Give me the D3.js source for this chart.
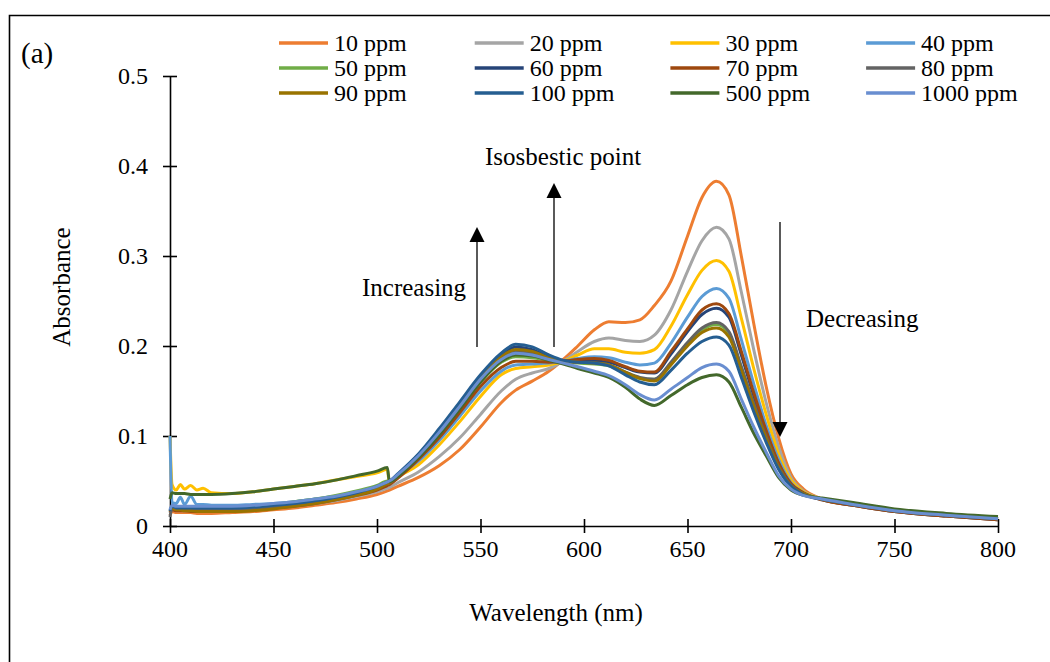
<!DOCTYPE html>
<html>
<head>
<meta charset="utf-8">
<script src="https://cdn.jsdelivr.net/npm/d3@7"></script>
<style>
  body { margin: 0; background: #fff; }
  text { font-family: "Liberation Serif", "Times New Roman", serif; fill: #000; }
</style>
</head>
<body>
<div class="chart"></div>
<script>
// wavelengths (nm) shared by all series
var wavelength = [400,401,403,405,407,410,413,416,420,
  430,440,450,460,470,480,490,500,
  505,506,
  510,520,530,540,550,560,567,575,
  583,590,597,605,612,620,627,634,642,650,657,664,
  670,676,682,688,694,700,706,715,730,750,775,800];

// absorbance
var ppm10 = [0.012,0.016,0.015,0.015,0.015,0.015,0.014,0.014,0.014,
  0.015,0.016,0.018,0.020,0.023,0.026,0.030,0.035,
  0.039,0.040,
  0.044,0.054,0.067,0.085,0.110,0.137,0.151,0.161,
  0.172,0.185,0.200,0.218,0.227,0.226,0.229,0.245,0.272,0.322,0.365,0.383,
  0.368,0.300,0.225,0.155,0.098,0.058,0.041,0.030,0.023,0.016,0.011,0.007];
var ppm20 = [0.014,0.018,0.017,0.017,0.017,0.017,0.017,0.017,0.017,
  0.017,0.018,0.020,0.022,0.025,0.028,0.033,0.038,
  0.042,0.043,
  0.048,0.060,0.077,0.098,0.124,0.150,0.163,0.170,
  0.175,0.183,0.194,0.205,0.209,0.206,0.205,0.212,0.240,0.283,0.317,0.332,
  0.319,0.260,0.196,0.137,0.088,0.054,0.039,0.030,0.024,0.017,0.012,0.008];
var ppm30 = [0.100,0.046,0.040,0.046,0.041,0.045,0.040,0.042,0.037,
  0.036,0.038,0.041,0.044,0.047,0.051,0.055,0.059,
  0.063,0.047,
  0.054,0.068,0.090,0.116,0.144,0.168,0.175,0.177,
  0.179,0.183,0.190,0.197,0.197,0.193,0.192,0.196,0.222,0.257,0.284,0.295,
  0.283,0.231,0.175,0.124,0.080,0.051,0.038,0.030,0.024,0.017,0.012,0.008];
var ppm40 = [0.100,0.026,0.025,0.032,0.024,0.033,0.024,0.024,0.023,
  0.023,0.024,0.025,0.027,0.030,0.033,0.038,0.044,
  0.049,0.050,
  0.056,0.072,0.095,0.122,0.150,0.172,0.179,0.180,
  0.181,0.183,0.186,0.188,0.187,0.182,0.179,0.181,0.203,0.232,0.255,0.264,
  0.253,0.207,0.158,0.112,0.074,0.048,0.037,0.030,0.024,0.017,0.012,0.008];
var ppm50 = [0.016,0.021,0.020,0.020,0.020,0.020,0.020,0.020,0.020,
  0.021,0.022,0.024,0.027,0.030,0.034,0.039,0.045,
  0.050,0.050,
  0.056,0.077,0.102,0.130,0.160,0.182,0.188,0.187,
  0.184,0.182,0.181,0.180,0.178,0.170,0.164,0.163,0.180,0.202,0.218,0.224,
  0.214,0.176,0.135,0.098,0.065,0.045,0.036,0.030,0.024,0.017,0.012,0.008];
var ppm60 = [0.016,0.019,0.018,0.018,0.018,0.018,0.017,0.017,0.017,
  0.017,0.018,0.020,0.023,0.026,0.030,0.035,0.042,
  0.047,0.048,
  0.056,0.079,0.106,0.136,0.166,0.190,0.199,0.196,
  0.188,0.184,0.183,0.183,0.182,0.176,0.171,0.170,0.191,0.216,0.235,0.242,
  0.232,0.190,0.145,0.104,0.069,0.046,0.036,0.029,0.023,0.016,0.011,0.007];
var ppm70 = [0.015,0.018,0.017,0.017,0.017,0.016,0.016,0.016,0.016,
  0.017,0.018,0.020,0.022,0.025,0.029,0.034,0.040,
  0.045,0.046,
  0.053,0.074,0.098,0.126,0.155,0.176,0.183,0.183,
  0.182,0.183,0.185,0.186,0.184,0.177,0.172,0.171,0.194,0.219,0.240,0.247,
  0.236,0.194,0.148,0.106,0.070,0.047,0.037,0.029,0.023,0.016,0.011,0.007];
var ppm80 = [0.010,0.020,0.019,0.019,0.019,0.018,0.018,0.018,0.018,
  0.018,0.019,0.021,0.023,0.026,0.030,0.035,0.042,
  0.047,0.048,
  0.055,0.078,0.104,0.133,0.163,0.186,0.194,0.192,
  0.186,0.183,0.182,0.181,0.179,0.171,0.165,0.163,0.182,0.204,0.220,0.226,
  0.216,0.177,0.136,0.099,0.066,0.045,0.036,0.030,0.024,0.017,0.012,0.008];
var ppm90 = [0.018,0.020,0.018,0.018,0.017,0.017,0.016,0.016,0.016,
  0.016,0.017,0.019,0.022,0.025,0.029,0.034,0.041,
  0.047,0.048,
  0.056,0.079,0.105,0.134,0.164,0.188,0.196,0.194,
  0.187,0.183,0.182,0.181,0.179,0.171,0.164,0.161,0.179,0.200,0.215,0.220,
  0.210,0.173,0.133,0.097,0.065,0.044,0.036,0.030,0.024,0.017,0.012,0.008];
var ppm100 = [0.017,0.022,0.020,0.020,0.020,0.020,0.020,0.020,0.020,
  0.020,0.021,0.023,0.025,0.028,0.032,0.037,0.044,
  0.049,0.050,
  0.058,0.080,0.108,0.138,0.168,0.192,0.202,0.199,
  0.190,0.184,0.182,0.181,0.178,0.168,0.160,0.157,0.173,0.192,0.205,0.210,
  0.201,0.165,0.127,0.093,0.063,0.044,0.035,0.030,0.024,0.017,0.012,0.008];
var ppm500 = [0.030,0.037,0.036,0.036,0.036,0.035,0.035,0.035,0.035,
  0.036,0.038,0.041,0.044,0.047,0.051,0.056,0.061,
  0.065,0.049,
  0.055,0.076,0.101,0.130,0.160,0.183,0.190,0.189,
  0.184,0.180,0.175,0.170,0.165,0.154,0.141,0.134,0.145,0.157,0.165,0.168,
  0.160,0.132,0.103,0.078,0.054,0.040,0.034,0.031,0.026,0.019,0.014,0.0105];
var ppm1000 = [0.018,0.023,0.022,0.022,0.022,0.022,0.022,0.022,0.022,
  0.022,0.023,0.025,0.027,0.030,0.033,0.038,0.044,
  0.049,0.050,
  0.057,0.078,0.104,0.133,0.163,0.185,0.192,0.190,
  0.185,0.181,0.177,0.172,0.167,0.157,0.146,0.140,0.152,0.165,0.176,0.180,
  0.172,0.141,0.110,0.082,0.056,0.041,0.034,0.030,0.024,0.017,0.012,0.008];

var seriesNames = ["10 ppm","20 ppm","30 ppm","40 ppm","50 ppm","60 ppm",
  "70 ppm","80 ppm","90 ppm","100 ppm","500 ppm","1000 ppm"];
var seriesValues = [ppm10,ppm20,ppm30,ppm40,ppm50,ppm60,ppm70,ppm80,ppm90,ppm100,ppm500,ppm1000];
var xTicks = [400,450,500,550,600,650,700,750,800];
var yTicks = [0,0.1,0.2,0.3,0.4,0.5];

var colors = ["#ED7D31","#A5A5A5","#FFC000","#5B9BD5","#70AD47","#264478",
  "#9E480E","#636363","#997300","#255E91","#43682B","#698ED0"];

var svgWidth = 1050, svgHeight = 662;
var svg = d3.select(".chart").append("svg")
  .attr("width", svgWidth)
  .attr("height", svgHeight);

// outer frame (only left and top edges are in view)
svg.append("path")
  .attr("d", "M9.5,662 V15.5 H1050")
  .attr("fill", "none")
  .attr("stroke", "#000")
  .attr("stroke-width", 1.6);

var xScale = d3.scaleLinear().domain([400, 800]).range([170, 998]);
var yScale = d3.scaleLinear().domain([0, 0.5]).range([526, 76]);

// axes with ticks crossing the axis line
var xAxis = svg.append("g")
  .attr("transform", "translate(0,526)")
  .call(d3.axisBottom(xScale).tickValues(xTicks).tickSize(7).tickSizeOuter(0).tickFormat(""));
xAxis.selectAll(".tick line").attr("y1", -7);
xAxis.select(".domain").attr("stroke-width", 1.6);
xAxis.selectAll(".tick line").attr("stroke-width", 1.6);

var yAxis = svg.append("g")
  .attr("transform", "translate(170,0)")
  .call(d3.axisLeft(yScale).tickValues(yTicks).tickSize(7).tickSizeOuter(0).tickFormat(""));
yAxis.selectAll(".tick line").attr("x1", 7).attr("x2", -7);
yAxis.select(".domain").attr("stroke-width", 1.6);
yAxis.selectAll(".tick line").attr("stroke-width", 1.6);

svg.selectAll(".xlab").data(xTicks).enter().append("text")
  .attr("x", d => xScale(d))
  .attr("y", 557)
  .attr("text-anchor", "middle")
  .style("font-size", "24px")
  .text(d => d);

svg.selectAll(".ylab").data(yTicks).enter().append("text")
  .attr("x", 148)
  .attr("y", d => yScale(d) + 8)
  .attr("text-anchor", "end")
  .style("font-size", "24px")
  .text(d => d);

// spectra
var line = d3.line()
  .x((d, i) => xScale(wavelength[i]))
  .y(d => yScale(d))
  .curve(d3.curveMonotoneX);

svg.append("g").selectAll("path")
  .data(seriesValues)
  .enter()
  .append("path")
  .attr("d", d => line(d))
  .attr("fill", "none")
  .attr("stroke", (d, i) => colors[i])
  .attr("stroke-width", 3)
  .attr("stroke-linejoin", "round");

// axis titles
svg.append("text")
  .attr("x", 556)
  .attr("y", 621)
  .attr("text-anchor", "middle")
  .style("font-size", "25px")
  .text("Wavelength (nm)");

svg.append("text")
  .attr("transform", "translate(70,287) rotate(-90)")
  .attr("text-anchor", "middle")
  .style("font-size", "25px")
  .text("Absorbance");

svg.append("text")
  .attr("x", 21)
  .attr("y", 63)
  .style("font-size", "29px")
  .text("(a)");

// legend, 4 columns x 3 rows
var legend = svg.append("g");
var legendItems = legend.selectAll("g")
  .data(seriesNames)
  .enter()
  .append("g")
  .attr("transform", (d, i) => `translate(${279 + (i % 4) * 195.7}, ${43 + Math.floor(i / 4) * 25})`);
legendItems.append("line")
  .attr("x1", 0).attr("x2", 49)
  .attr("y1", 0).attr("y2", 0)
  .attr("stroke", (d, i) => colors[i])
  .attr("stroke-width", 3.5);
legendItems.append("text")
  .attr("x", 55)
  .attr("y", 8)
  .style("font-size", "24px")
  .text(d => d);

// annotations
function arrow(x, yFrom, yTo) {
  var dir = yTo < yFrom ? 1 : -1;
  svg.append("line")
    .attr("x1", x).attr("x2", x)
    .attr("y1", yFrom).attr("y2", yTo + dir * 12)
    .attr("stroke", "#000")
    .attr("stroke-width", 1.3);
  svg.append("path")
    .attr("d", `M${x},${yTo} L${x - 7.5},${yTo + dir * 15} L${x + 7.5},${yTo + dir * 15} Z`)
    .attr("fill", "#000");
}
arrow(477, 347, 227);
arrow(554, 347, 183);
arrow(780, 222, 437);

svg.append("text").attr("x", 362).attr("y", 296).style("font-size", "25px").text("Increasing");
svg.append("text").attr("x", 485).attr("y", 165).style("font-size", "25px").text("Isosbestic point");
svg.append("text").attr("x", 806).attr("y", 327).style("font-size", "25px").text("Decreasing");
</script>
</body>
</html>
